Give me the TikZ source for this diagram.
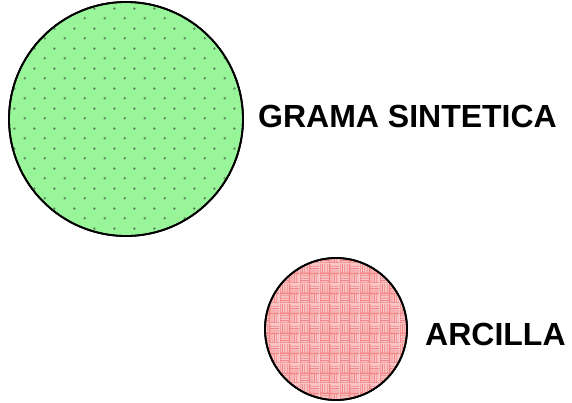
\documentclass[tikz,border=0pt]{standalone}
\usepackage{fontspec}
\setmainfont{Liberation Sans}
\usetikzlibrary{patterns}
\definecolor{grasscol}{HTML}{99F599}
\definecolor{grassdot}{HTML}{5F8A5F}
\definecolor{claycol}{HTML}{FAC8C8}
\definecolor{clayline}{HTML}{F28585}
\pgfdeclarepatternformonly{grassdots}{\pgfpointorigin}{\pgfpoint{20pt}{20pt}}{\pgfpoint{20pt}{20pt}}{
  \pgfpathcircle{\pgfpoint{5pt}{5pt}}{1.5pt}
  \pgfpathcircle{\pgfpoint{15pt}{15pt}}{1.5pt}
  \pgfusepath{fill}
}
\pgfdeclarepatternformonly{clayweave}{\pgfpointorigin}{\pgfpoint{20pt}{20pt}}{\pgfpoint{20pt}{20pt}}{
  \pgfsetlinewidth{0.9pt}
  \foreach \k in {2.5,5,7.5}{
    \pgfpathmoveto{\pgfpoint{0pt}{\k pt}}\pgfpathlineto{\pgfpoint{10pt}{\k pt}}
    \pgfpathmoveto{\pgfpoint{10pt}{10pt+\k pt}}\pgfpathlineto{\pgfpoint{20pt}{10pt+\k pt}}
    \pgfpathmoveto{\pgfpoint{10pt+\k pt}{0pt}}\pgfpathlineto{\pgfpoint{10pt+\k pt}{10pt}}
    \pgfpathmoveto{\pgfpoint{\k pt}{10pt}}\pgfpathlineto{\pgfpoint{\k pt}{20pt}}
  }
  \pgfusepath{stroke}
  \pgfsetlinewidth{1.4pt}
  \pgfpathmoveto{\pgfpoint{0pt}{0pt}}\pgfpathlineto{\pgfpoint{20pt}{0pt}}
  \pgfpathmoveto{\pgfpoint{0pt}{10pt}}\pgfpathlineto{\pgfpoint{20pt}{10pt}}
  \pgfpathmoveto{\pgfpoint{0pt}{0pt}}\pgfpathlineto{\pgfpoint{0pt}{20pt}}
  \pgfpathmoveto{\pgfpoint{10pt}{0pt}}\pgfpathlineto{\pgfpoint{10pt}{20pt}}
  \pgfusepath{stroke}
}
\begin{document}
\begin{tikzpicture}[x=1pt,y=-1pt,
    soil_node/.style={circle,draw=black,line width=1.8pt,inner sep=0pt},
    soil_label/.style={anchor=west,inner sep=0pt,font=\fontsize{32}{36}\selectfont\bfseries}]
    \useasboundingbox (0,0) rectangle (572,402);
    \node[soil_node,fill=grasscol,minimum size=234pt] (grama) at (126,119) {};
    \fill[pattern=grassdots,pattern color=grassdot] (126,119) circle (116pt);
    \node[soil_node,fill=claycol,minimum size=142pt] (arcilla) at (336,329) {};
    \fill[pattern=clayweave,pattern color=clayline] (336,329) circle (70pt);
    \node[soil_node,minimum size=234pt] at (grama) {};
    \node[soil_node,minimum size=142pt] at (arcilla) {};
    \node[soil_label] (grama_label) at (258,116) {GRAMA SINTETICA};
    \node[soil_label] (arcilla_label) at (425,334) {ARCILLA};
\end{tikzpicture}
\end{document}
